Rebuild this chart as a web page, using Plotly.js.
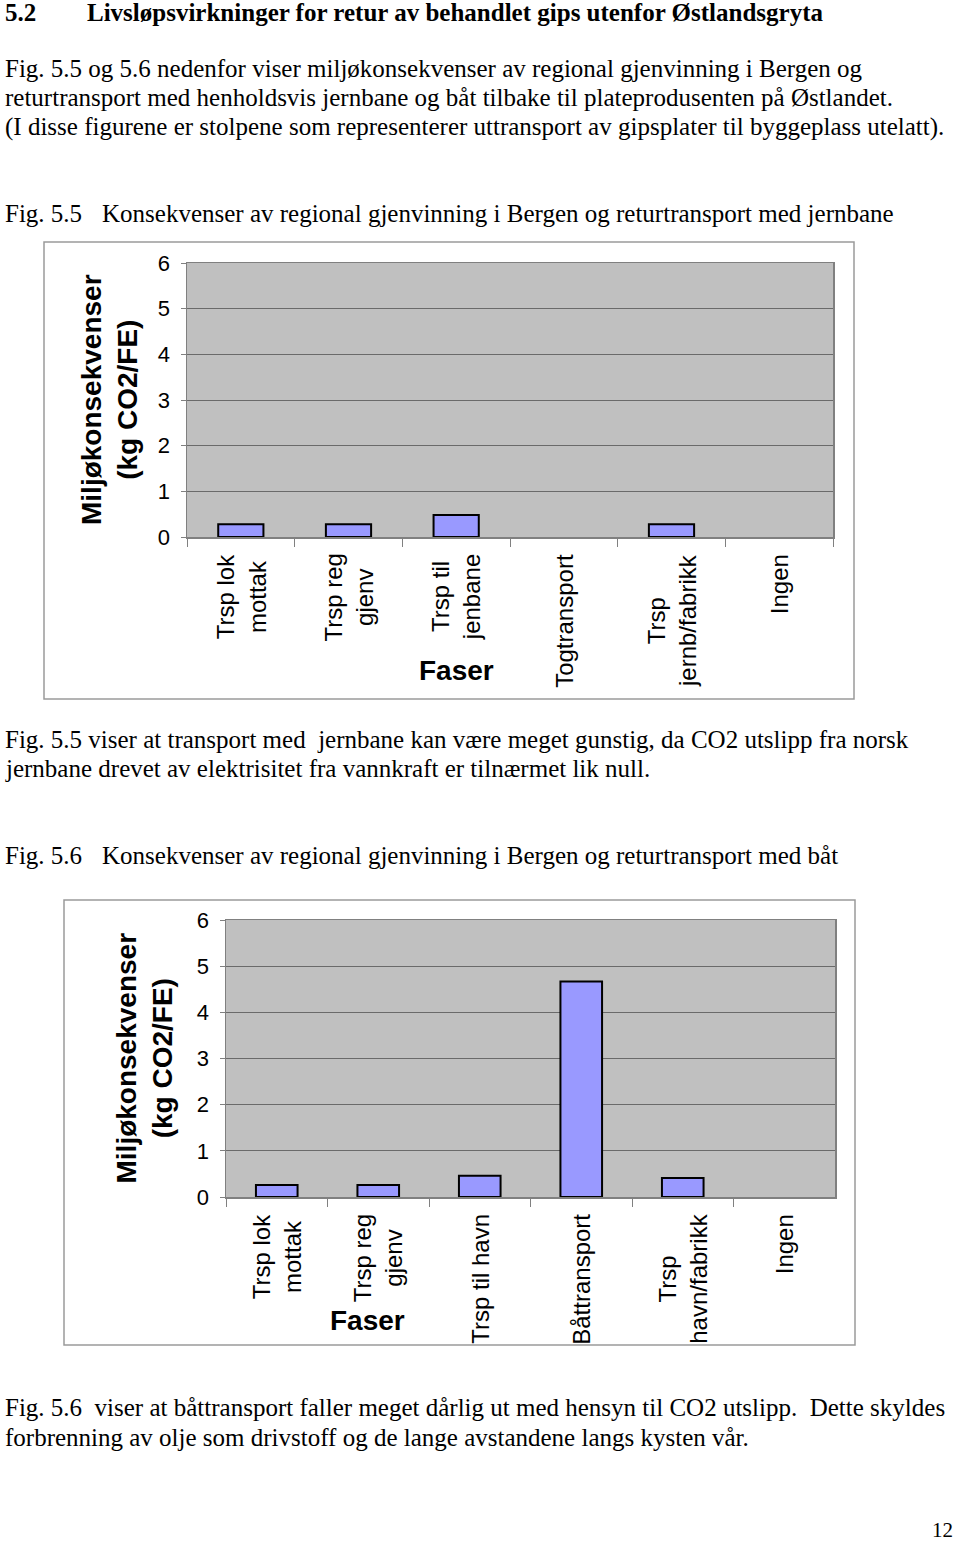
<!DOCTYPE html>
<html>
<head>
<meta charset="utf-8">
<script src="https://cdn.plot.ly/plotly-3.0.1.min.js"></script>
<style>
html,body{margin:0;padding:0;background:#fff;}
#page{width:960px;height:1543px;}
</style>
</head>
<body>
<div id="page"></div>
<script>
// ---- Data ----
const categoriesRail = ["Trsp lok<br>mottak", "Trsp reg<br>gjenv", "Trsp til<br>jenbane", "Togtransport", "Trsp<br>jernb/fabrikk", "Ingen"];
const valuesRail = [0.28, 0.28, 0.48, 0, 0.28, 0];
const categoriesBoat = ["Trsp lok<br>mottak", "Trsp reg<br>gjenv", "Trsp til havn", "Båttransport", "Trsp<br>havn/fabrikk", "Ingen"];
const valuesBoat = [0.26, 0.26, 0.46, 4.67, 0.41, 0];
const yTicks = [0, 1, 2, 3, 4, 5, 6];
const yTitle = "Miljøkonsekvenser<br>(kg CO2/FE)";
const xTitle = "Faser";

const heading = ["5.2", "Livsløpsvirkninger for retur av behandlet gips utenfor Østlandsgryta"];
const introLines = [
  "Fig. 5.5 og 5.6 nedenfor viser miljøkonsekvenser av regional gjenvinning i Bergen og",
  "returtransport med henholdsvis jernbane og båt tilbake til plateprodusenten på Østlandet.",
  "(I disse figurene er stolpene som representerer uttransport av gipsplater til byggeplass utelatt)."
];
const caption1 = ["Fig. 5.5", "Konsekvenser av regional gjenvinning i Bergen og returtransport med jernbane"];
const after1 = [
  "Fig. 5.5 viser at transport med  jernbane kan være meget gunstig, da CO2 utslipp fra norsk",
  "jernbane drevet av elektrisitet fra vannkraft er tilnærmet lik null."
];
const caption2 = ["Fig. 5.6", "Konsekvenser av regional gjenvinning i Bergen og returtransport med båt"];
const after2 = [
  "Fig. 5.6  viser at båttransport faller meget dårlig ut med hensyn til CO2 utslipp.  Dette skyldes",
  "forbrenning av olje som drivstoff og de lange avstandene langs kysten vår."
];
const pageNumber = "12";

// ---- Layout helpers ----
const W = 960, H = 1543;
const X = px => px / W;
const Y = py => 1 - py / H;
const serif = "Liberation Serif, Times New Roman, serif";
const sans = "Liberation Sans, Arial, sans-serif";
const BODY = 25;

function txt(text, x, y, opts) {
  return Object.assign({
    text: text, xref: "paper", yref: "paper", x: X(x), y: Y(y),
    xanchor: "left", yanchor: "middle", showarrow: false, borderpad: 0,
    font: {family: serif, size: BODY, color: "#000"}
  }, opts || {});
}

const annotations = [];
annotations.push(txt("<b>" + heading[0] + "</b>", 4, 12));
annotations.push(txt("<b>" + heading[1] + "</b>", 86, 12));
introLines.forEach((l, i) => annotations.push(txt(l, 4, [69, 98, 127][i])));
annotations.push(txt(caption1[0], 4, 213));
annotations.push(txt(caption1[1], 101, 213));
after1.forEach((l, i) => annotations.push(txt(l, 4, [739, 768][i])));
annotations.push(txt(caption2[0], 4, 855));
annotations.push(txt(caption2[1], 101, 855));
after2.forEach((l, i) => annotations.push(txt(l, 4, [1407, 1437][i])));
annotations.push(txt(pageNumber, 954, 1530, {xanchor: "right", font: {family: serif, size: 21, color: "#000"}}));

// chart geometry
const c1 = {l: 187, r: 833, t: 263, b: 537, box: [44, 242, 854, 699], ytx: 110, faser: [456, 671]};
const c2 = {l: 226, r: 835, t: 920, b: 1197, box: [64, 900, 855, 1345], ytx: 144, faser: [367, 1320]};

function chartAnn(c, cats, xref) {
  cats.forEach(cat => annotations.push({
    text: cat, xref: xref, yref: "paper", x: cat, y: Y(c.b + 15),
    xanchor: "center", yanchor: "top", textangle: -90, showarrow: false, align: "center",
    font: {family: sans, size: 24, color: "#000"}
  }));
  annotations.push({
    text: "<b>" + yTitle + "</b>", xref: "paper", yref: "paper", x: X(c.ytx), y: Y((c.t + c.b) / 2),
    xanchor: "center", yanchor: "middle", textangle: -90, showarrow: false, align: "center",
    font: {family: sans, size: 28, color: "#000"}
  });
  annotations.push({
    text: "<b>" + xTitle + "</b>", xref: "paper", yref: "paper", x: X(c.faser[0]), y: Y(c.faser[1]),
    xanchor: "center", yanchor: "middle", showarrow: false,
    font: {family: sans, size: 28, color: "#000"}
  });
}
chartAnn(c1, categoriesRail, "x");
chartAnn(c2, categoriesBoat, "x2");

const shapes = [c1, c2].map(c => ({
  type: "rect", xref: "paper", yref: "paper",
  x0: X(c.box[0]), x1: X(c.box[2]), y0: Y(c.box[3]), y1: Y(c.box[1]),
  line: {color: "#9a9a9a", width: 1.5}, fillcolor: "rgba(0,0,0,0)", layer: "below"
}));

function barStyle(vals) {
  return {color: "#9999FF", line: {color: "#000", width: vals.map(v => v > 0 ? 2 : 0)}};
}
const traces = [
  {type: "bar", x: categoriesRail, y: valuesRail, xaxis: "x", yaxis: "y", width: 0.42, marker: barStyle(valuesRail), hoverinfo: "skip"},
  {type: "bar", x: categoriesBoat, y: valuesBoat, xaxis: "x2", yaxis: "y2", width: 0.41, marker: barStyle(valuesBoat), hoverinfo: "skip"}
];

function xax(c) {
  return {
    domain: [X(c.l), X(c.r)], type: "category", showticklabels: false,
    ticks: "outside", tickson: "boundaries", ticklen: 8, tickcolor: "#808080", tickwidth: 1,
    showline: true, linecolor: "#808080", linewidth: 1.5, mirror: true,
    showgrid: false, zeroline: false, fixedrange: true
  };
}
function yax(c, anchor) {
  return {
    domain: [Y(c.b), Y(c.t)], range: [0, 6], tickvals: yTicks, ticktext: yTicks.map(String),
    anchor: anchor, ticks: "outside", ticklen: 5, tickcolor: "#808080",
    showline: true, linecolor: "#808080", linewidth: 1.5, mirror: true,
    showgrid: true, gridcolor: "#6a6a6a", gridwidth: 1, zeroline: false,
    tickfont: {family: sans, size: 22, color: "#000"}, ticklabelstandoff: 6, fixedrange: true
  };
}

const layout = {
  width: W, height: H, autosize: false,
  margin: {l: 0, r: 0, t: 0, b: 0, pad: 0},
  paper_bgcolor: "#fff", plot_bgcolor: "#C0C0C0",
  showlegend: false, bargap: 0.58,
  xaxis: Object.assign(xax(c1), {anchor: "y"}),
  yaxis: yax(c1, "x"),
  xaxis2: Object.assign(xax(c2), {anchor: "y2"}),
  yaxis2: yax(c2, "x2"),
  annotations: annotations, shapes: shapes
};

Plotly.newPlot("page", traces, layout, {staticPlot: true, displayModeBar: false});
</script>
</body>
</html>
